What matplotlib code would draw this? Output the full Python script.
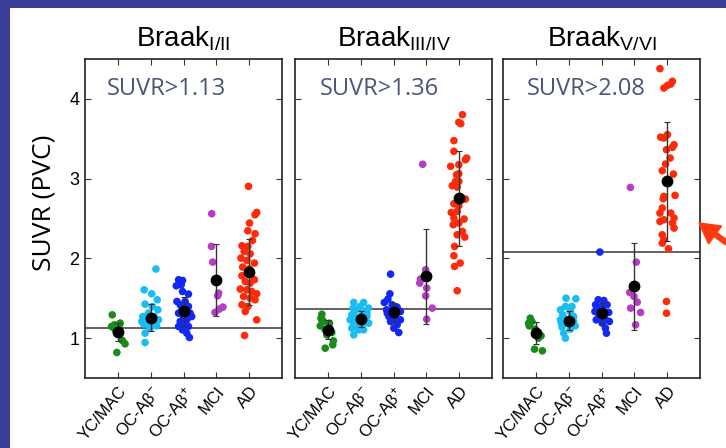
import matplotlib
matplotlib.use('Agg')
import matplotlib.pyplot as plt
from matplotlib.patches import Rectangle, Polygon
from matplotlib.lines import Line2D

# ---------------- data ----------------
groups = ['YC/MAC', 'OC-Aβ$^{-}$', 'OC-Aβ$^{+}$', 'MCI', 'AD']
group_colors = ['#1a8a1a', '#19bdf2', '#1428f5', '#b53ec4', '#ff2a0a']

titles = [r'Braak$_{\mathrm{I/II}}$', r'Braak$_{\mathrm{III/IV}}$', r'Braak$_{\mathrm{V/VI}}$']
thresholds = [1.13, 1.36, 2.08]
threshold_labels = ['SUVR>1.13', 'SUVR>1.36', 'SUVR>2.08']

# Braak I/II
b12_values = [
    [1.292, 1.188, 1.146, 1.112, 1.146, 0.97, 0.928, 0.82, 1.167],
    [1.866, 1.606, 1.556, 1.481, 1.426, 1.397, 1.355, 1.313, 1.271, 1.271, 1.25, 1.229,
     1.209, 1.196, 1.179, 1.163, 1.154, 1.121, 1.062, 0.945],
    [1.732, 1.723, 1.656, 1.669, 1.552, 1.585, 1.46, 1.46, 1.418, 1.397, 1.355, 1.313,
     1.313, 1.271, 1.271, 1.229, 1.209, 1.167, 1.146, 1.146, 1.104, 1.062, 1.008],
    [2.56, 2.15, 1.953, 1.564, 1.531, 1.389, 1.364, 1.322],
    [2.903, 2.576, 2.547, 2.443, 2.346, 2.309, 2.225, 2.158, 2.15, 2.087, 2.058, 2.003,
     1.974, 1.941, 1.891, 1.87, 1.782, 1.732, 1.711, 1.69, 1.615, 1.606, 1.585, 1.556,
     1.523, 1.502, 1.481, 1.418, 1.397, 1.334, 1.229, 1.033],
]
b12_jitter = [
    [-0.17, 0.07, -0.19, -0.09, 0.04, 0.14, 0.22, -0.03, -0.10],
    [0.16, -0.20, 0.03, 0.20, -0.17, 0.05, 0.22, -0.07, -0.24, 0.11, -0.12, 0.24,
     -0.27, 0.08, -0.22, -0.07, 0.18, -0.02, -0.17, -0.17],
    [-0.15, -0.03, -0.22, -0.07, 0.15, -0.03, -0.20, 0.05, -0.10, 0.15, -0.05, -0.15,
     0.20, 0.0, 0.25, 0.10, -0.10, 0.05, -0.15, 0.15, -0.03, 0.10, 0.18],
    [-0.14, -0.15, -0.11, 0.07, 0.04, 0.20, 0.09, -0.04],
    [-0.02, 0.23, 0.18, 0.01, -0.04, 0.18, 0.10, -0.22, -0.04, -0.15, 0.03, -0.25,
     -0.07, 0.16, -0.20, 0.0, -0.22, 0.16, -0.12, 0.03, -0.27, -0.07, 0.08, 0.23,
     -0.17, 0.03, 0.18, -0.22, -0.04, -0.12, 0.23, -0.14],
]
b12_mean = [1.075, 1.255, 1.334, 1.73, 1.828]
b12_sd = [0.11, 0.17, 0.18, 0.45, 0.41]

# Braak III/IV
b34_values = [
    [1.30, 1.25, 1.229, 1.208, 1.187, 1.154, 1.104, 1.07, 1.041, 0.966, 0.916, 0.874],
    [1.447, 1.447, 1.397, 1.376, 1.376, 1.355, 1.334, 1.313, 1.292, 1.271, 1.271, 1.229,
     1.229, 1.208, 1.187, 1.179, 1.154, 1.146, 1.125, 1.104, 1.104, 1.041],
    [1.802, 1.556, 1.489, 1.447, 1.418, 1.388, 1.355, 1.313, 1.334, 1.271, 1.238, 1.229,
     1.208, 1.167, 1.125, 1.07],
    [3.18, 1.857, 1.74, 1.69, 1.627, 1.53, 1.376, 1.238],
    [3.802, 3.706, 3.689, 3.476, 3.342, 3.258, 3.237, 3.174, 3.154, 3.062, 3.049, 2.965,
     2.965, 2.911, 2.894, 2.744, 2.685, 2.66, 2.576, 2.589, 2.505, 2.493, 2.422, 2.443,
     2.338, 2.296, 2.267, 2.15, 2.033, 1.941, 1.899, 1.594],
]
b34_jitter = [
    [-0.18, -0.21, -0.18, -0.13, 0.05, -0.23, -0.08, 0.12, -0.03, 0.17, 0.15, -0.08],
    [-0.21, 0.09, -0.01, 0.24, -0.23, -0.16, 0.04, 0.19, -0.27, -0.16, 0.19, -0.32,
     -0.11, 0.14, 0.24, -0.21, 0.04, -0.11, -0.27, -0.06, 0.09, -0.21],
    [-0.09, -0.11, -0.17, -0.28, -0.04, 0.11, -0.21, -0.19, 0.21, -0.14, 0.06, 0.21,
     -0.09, 0.11, 0.01, 0.16],
    [-0.11, -0.02, -0.18, -0.20, 0.01, -0.02, 0.18, 0.01],
    [0.10, -0.01, 0.05, -0.16, -0.16, 0.23, 0.19, -0.01, -0.26, -0.01, -0.08, -0.11,
     -0.01, -0.21, -0.06, 0.19, -0.16, -0.01, -0.24, -0.06, -0.16, 0.15, -0.18, -0.01,
     0.10, -0.06, 0.17, -0.14, -0.16, 0.03, -0.14, -0.06],
]
b34_mean = [1.104, 1.242, 1.326, 1.773, 2.752]
b34_sd = [0.12, 0.10, 0.12, 0.60, 0.60]

# Braak V/VI
b56_values = [
    [1.25, 1.188, 1.209, 1.154, 1.113, 1.029, 1.0, 0.862, 0.841],
    [1.501, 1.493, 1.397, 1.397, 1.355, 1.334, 1.292, 1.25, 1.271, 1.229, 1.209, 1.188,
     1.188, 1.154, 1.138, 1.113, 1.062, 1.0],
    [2.079, 1.481, 1.472, 1.418, 1.418, 1.397, 1.355, 1.334, 1.322, 1.263, 1.229, 1.229,
     1.209, 1.188, 1.125, 1.062],
    [2.89, 1.953, 1.573, 1.522, 1.451, 1.376, 1.322, 1.167],
    [4.379, 4.22, 4.186, 4.17, 4.136, 3.52, 3.551, 3.509, 3.425, 3.392, 3.363, 3.258,
     3.183, 3.099, 3.057, 2.79, 2.777, 2.748, 2.631, 2.568, 2.568, 2.505, 2.484, 2.463,
     2.442, 2.38, 2.296, 2.233, 2.191, 2.12, 1.46, 1.313],
]
b56_jitter = [
    [-0.17, -0.22, -0.12, -0.20, -0.02, 0.16, 0.08, -0.04, 0.20],
    [-0.08, 0.22, -0.10, 0.10, -0.25, 0.05, -0.18, -0.15, 0.15, -0.25, 0.15, -0.22,
     -0.05, 0.20, -0.20, 0.05, -0.15, -0.10],
    [-0.05, -0.10, 0.07, 0.17, -0.18, 0.02, -0.03, -0.20, 0.22, -0.08, -0.16, 0.12,
     0.24, 0.02, 0.12, 0.15],
    [-0.12, 0.06, -0.14, -0.01, 0.09, -0.11, 0.19, 0.04],
    [-0.22, 0.16, 0.11, 0.01, -0.10, -0.20, 0.01, -0.10, 0.21, 0.16, -0.02, 0.09,
     -0.05, -0.15, 0.19, 0.24, -0.10, -0.12, -0.15, 0.11, -0.22, 0.21, -0.10, -0.22,
     0.16, 0.21, -0.15, -0.10, -0.15, 0.04, -0.02, -0.02],
]
b56_mean = [1.062, 1.221, 1.313, 1.648, 2.965]
b56_sd = [0.14, 0.12, 0.13, 0.54, 0.75]

panel_values = [b12_values, b34_values, b56_values]
panel_jitter = [b12_jitter, b34_jitter, b56_jitter]
panel_mean = [b12_mean, b34_mean, b56_mean]
panel_sd = [b12_sd, b34_sd, b56_sd]

# ---------------- style ----------------
plt.rcParams['font.family'] = ['Liberation Sans', 'DejaVu Sans']
plt.rcParams['mathtext.fontset'] = 'custom'
plt.rcParams['mathtext.rm'] = 'Liberation Sans'
plt.rcParams['mathtext.it'] = 'Liberation Sans:italic'
plt.rcParams['mathtext.bf'] = 'Liberation Sans:bold'

W, H = 726, 448
fig = plt.figure(figsize=(W / 100, H / 100), dpi=100)
fig.patch.set_facecolor('#3b3e98')
fig.add_artist(Rectangle((10 / W, 0), 1, 1 - 8 / H, transform=fig.transFigure,
                         facecolor='white', edgecolor='none', zorder=-5))

lefts = [85, 295, 503]
ax_w = 197
ax_bottom, ax_top = 378, 59
text_x = [0.67, 0.76, 0.73]

for p in range(3):
    ax = fig.add_axes([lefts[p] / W, (H - ax_bottom) / H, ax_w / W, (ax_bottom - ax_top) / H])
    ax.set_xlim(0, 6)
    ax.set_ylim(0.5, 4.5)
    ax.axhline(thresholds[p], color='#555555', lw=1.3, zorder=1)
    for k in range(5):
        xs = [k + 1 + d for d in panel_jitter[p][k]]
        ax.scatter(xs, panel_values[p][k], s=30, color=group_colors[k],
                   edgecolors='none', zorder=2)
        ax.errorbar(k + 1, panel_mean[p][k], yerr=panel_sd[p][k], fmt='o',
                    color='black', ms=7.5, ecolor='#333333', elinewidth=1.0,
                    capsize=2, capthick=0.8, zorder=3)
    ax.set_xticks(range(1, 6))
    ax.set_xticklabels(groups, rotation=50, ha='right', va='top',
                       rotation_mode='anchor', fontsize=12)
    ax.set_yticks([1, 2, 3, 4])
    if p == 0:
        ax.set_yticklabels(['1', '2', '3', '4'], fontsize=13)
    else:
        ax.set_yticklabels([])
    ax.tick_params(direction='in', top=True, right=True, length=4, width=0.8,
                   color='#333333', pad=4)
    for sp in ax.spines.values():
        sp.set_linewidth(1.2)
        sp.set_color('#222222')
    ax.set_title(titles[p], fontsize=20, pad=9)
    ax.text(text_x[p], 4.12, threshold_labels[p], fontsize=17, color='#4a5678',
            family=['Open Sans', 'DejaVu Sans'], ha='left', va='center', zorder=1)

fig.text(44 / W, 1 - 203 / H, 'SUVR (PVC)', rotation=90, fontsize=19,
         family=['Open Sans', 'DejaVu Sans'], ha='center', va='center', color='black')

# red pointer arrow (annotation, in figure pixels)
arrow_col = '#ff3a12'
fig.add_artist(Line2D([712, 742], [H - 232, H - 254], transform=None,
                      color=arrow_col, lw=4.5, solid_capstyle='butt'))
fig.add_artist(Polygon([[699, H - 223], [721.6, H - 226.0], [708.6, H - 243.8]],
                       closed=True, transform=None, facecolor=arrow_col,
                       edgecolor=arrow_col, lw=1))

fig.savefig('out.png', dpi=100, facecolor=fig.get_facecolor())
